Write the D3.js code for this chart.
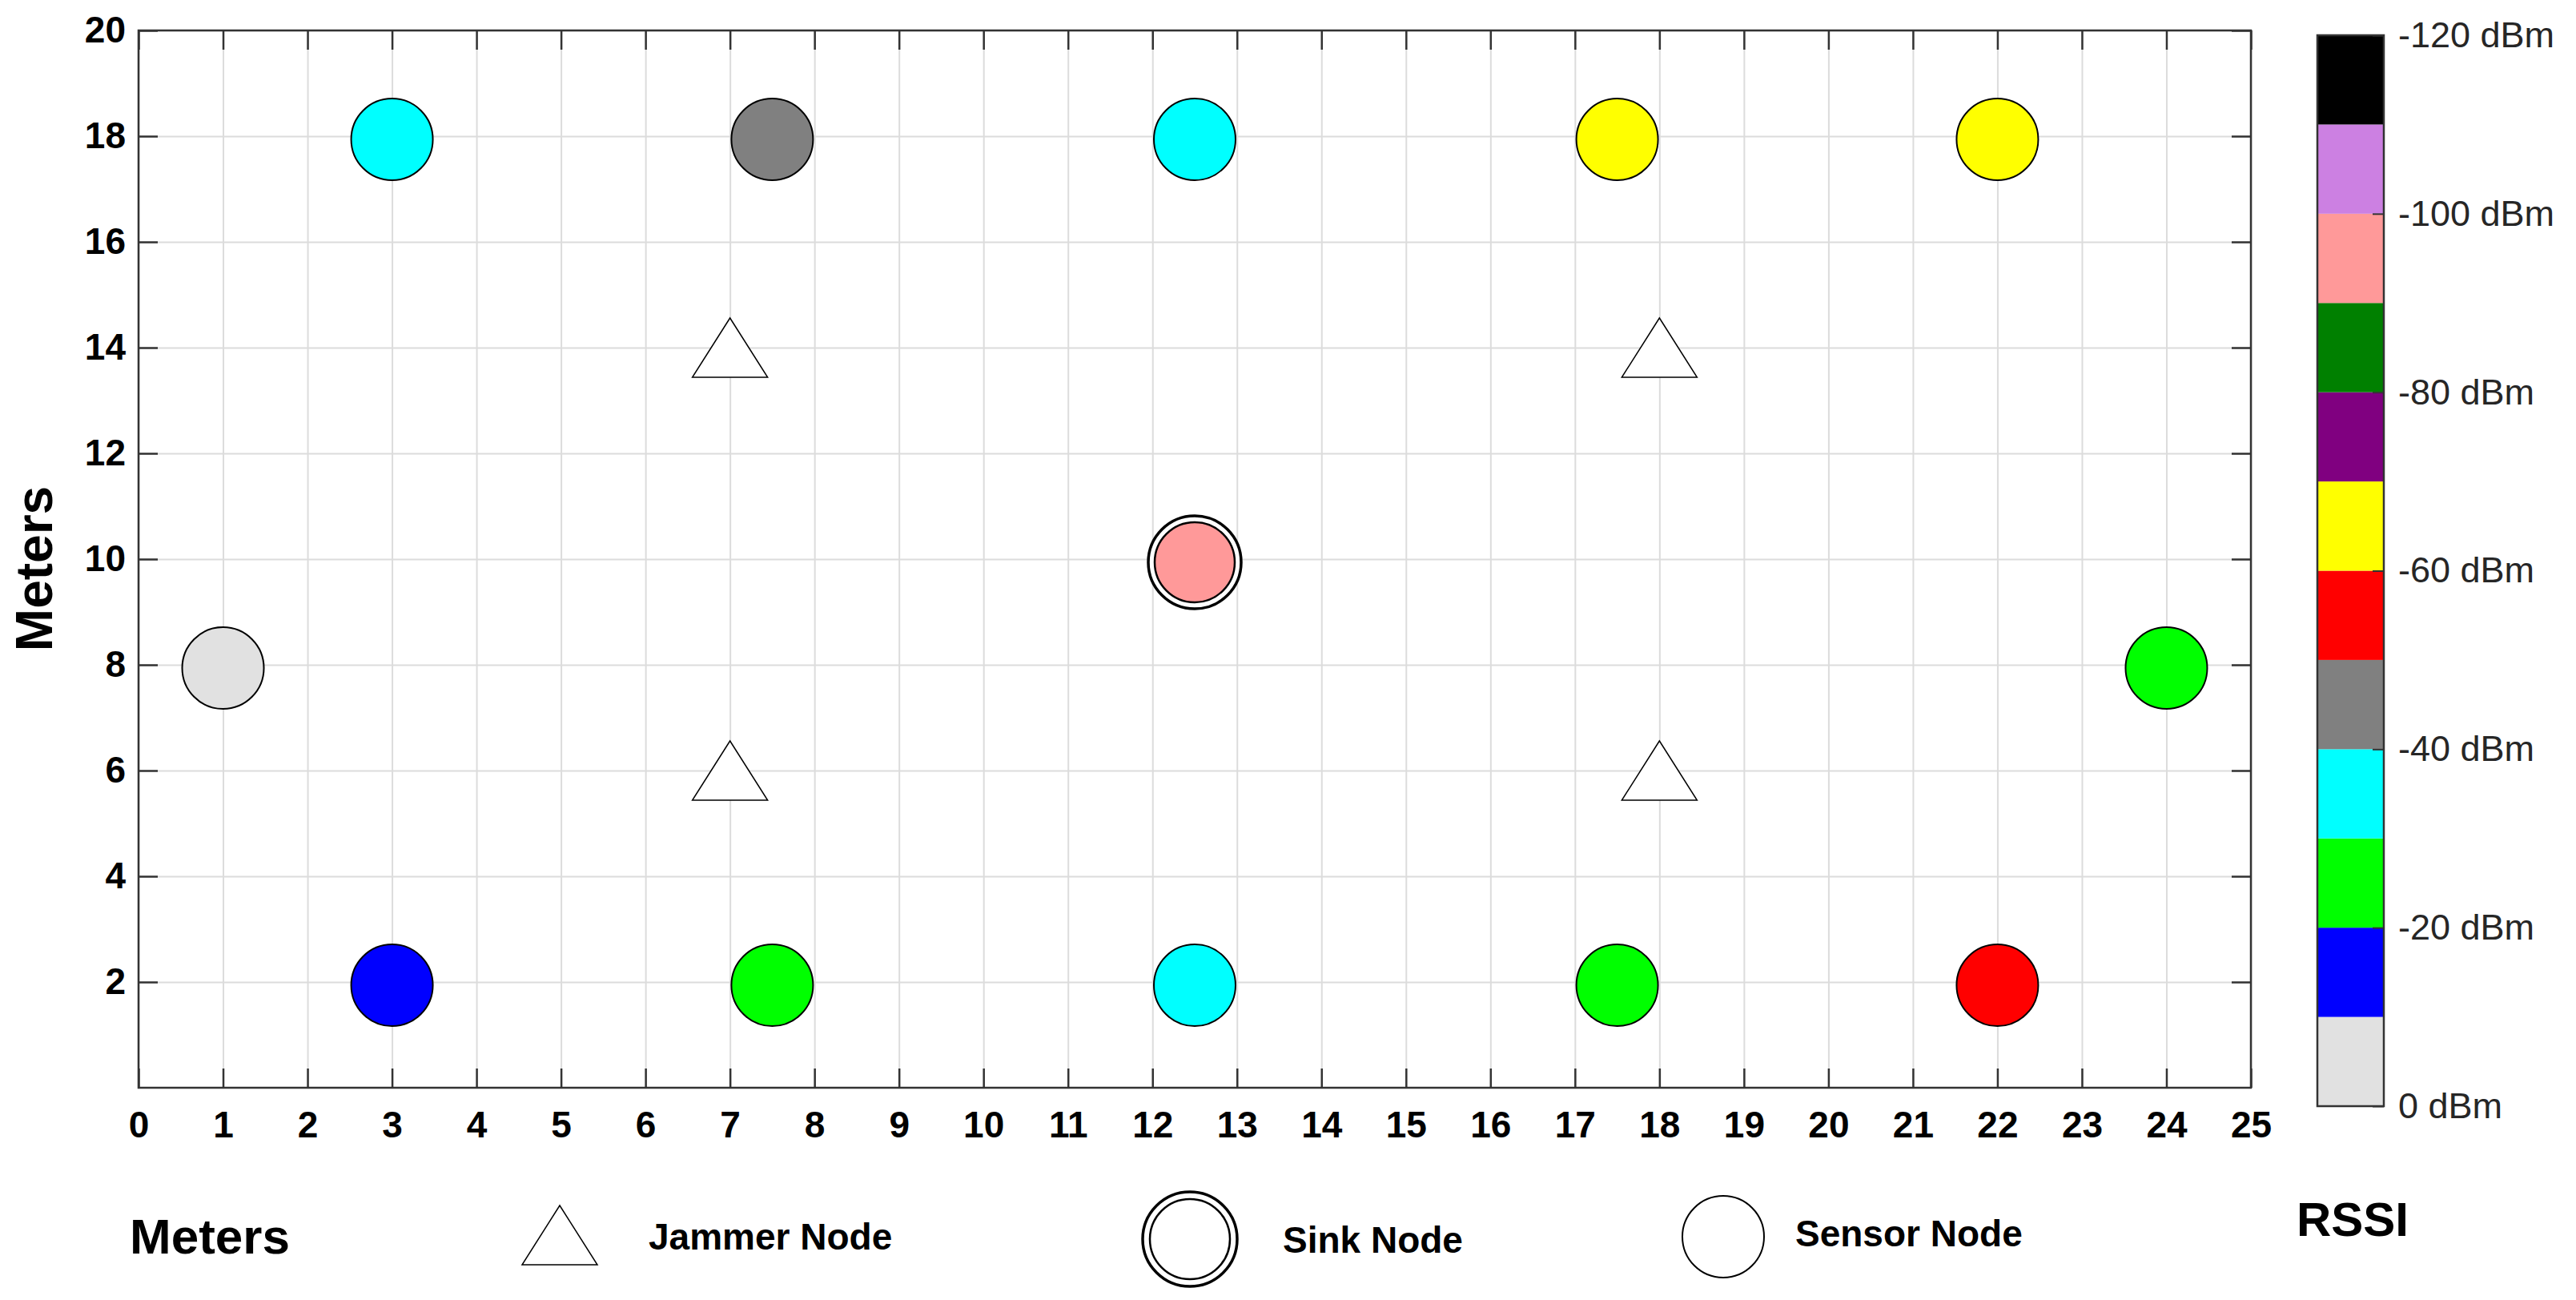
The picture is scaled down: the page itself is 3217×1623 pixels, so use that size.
<!DOCTYPE html>
<html>
<head>
<meta charset="utf-8">
<script src="https://cdn.jsdelivr.net/npm/d3@7"></script>
<style>
  body { margin: 0; background: #fff; }
  svg { display: block; font-family: "Liberation Sans", Arial, sans-serif; }
</style>
</head>
<body>
<svg id="chart" width="3217" height="1623"></svg>
<script>
// node positions (meters) and measured RSSI (dBm)
const sensorX = [3, 7.5, 12.5, 17.5, 22, 1, 24, 3, 7.5, 12.5, 17.5, 22];
const sensorY = [18, 18, 18, 18, 18, 8, 8, 2, 2, 2, 2, 2];
const sensorRssi = [-35, -45, -35, -65, -65, -5, -25, -15, -25, -35, -25, -55];
const sinkX = [12.5];
const sinkY = [10];
const sinkRssi = [-95];
const jammerX = [7, 18, 7, 18];
const jammerY = [14, 14, 6, 6];

// colour bands of the RSSI bar, from 0 dBm down to -120 dBm
const bandEdges = [0, -10, -20, -30, -40, -50, -60, -70, -80, -90, -100, -110, -120];
const bandColors = ['#e1e1e1', '#0000ff', '#00ff00', '#00ffff', '#808080', '#ff0000',
                    '#ffff00', '#800080', '#008000', '#ff9999', '#cc80e2', '#000000'];
const barTicks = [0, -20, -40, -60, -80, -100, -120];
const xTicks = d3.range(0, 26);
const yTicks = [2, 4, 6, 8, 10, 12, 14, 16, 18, 20];

const svg = d3.select('#chart');
const pLeft = 173, pRight = 2811, pTop = 38, pBottom = 1358;
const x = d3.scaleLinear().domain([0, 25]).range([pLeft, pRight]);
const y = d3.scaleLinear().domain([0, 20]).range([pBottom, pTop]);

// rssi -> colour (bands are 10 dBm wide)
const rssiColor = v => bandColors[Math.min(bandColors.length - 1, Math.floor(-v / 10))];

// grid
svg.append('g').attr('class', 'grid')
  .attr('transform', `translate(0,${pBottom})`)
  .call(d3.axisBottom(x).tickValues(xTicks).tickSize(-(pBottom - pTop)).tickFormat(''))
  .call(g => g.select('.domain').remove())
  .call(g => g.selectAll('line').attr('stroke', '#dcdcdc').attr('stroke-width', 2));
svg.append('g').attr('class', 'grid')
  .attr('transform', `translate(${pLeft},0)`)
  .call(d3.axisLeft(y).tickValues(yTicks).tickSize(-(pRight - pLeft)).tickFormat(''))
  .call(g => g.select('.domain').remove())
  .call(g => g.selectAll('line').attr('stroke', '#dcdcdc').attr('stroke-width', 2));

// axes with inward ticks
function styleAxis(g) {
  g.select('.domain').remove();
  g.selectAll('line').attr('stroke', '#333').attr('stroke-width', 2.5);
  g.selectAll('text').attr('fill', '#000').attr('font-size', 46).attr('font-weight', 'bold')
    .attr('font-family', '"Liberation Sans", Arial, sans-serif');
}
svg.append('g').attr('transform', `translate(0,${pBottom})`)
  .call(d3.axisBottom(x).tickValues(xTicks).tickSizeInner(-24).tickSizeOuter(0).tickPadding(29))
  .call(styleAxis);
svg.append('g').attr('transform', `translate(0,${pTop})`)
  .call(d3.axisTop(x).tickValues(xTicks).tickSizeInner(-24).tickSizeOuter(0).tickFormat(''))
  .call(styleAxis);
svg.append('g').attr('transform', `translate(${pLeft},0)`)
  .call(d3.axisLeft(y).tickValues(yTicks).tickSizeInner(-24).tickSizeOuter(0).tickPadding(16))
  .call(styleAxis);
svg.append('g').attr('transform', `translate(${pRight},0)`)
  .call(d3.axisRight(y).tickValues(yTicks).tickSizeInner(-24).tickSizeOuter(0).tickFormat(''))
  .call(styleAxis);

svg.append('rect')
  .attr('x', pLeft).attr('y', pTop)
  .attr('width', pRight - pLeft).attr('height', pBottom - pTop)
  .attr('fill', 'none').attr('stroke', '#333').attr('stroke-width', 2.5);

// triangle path centred on a point
const triW = 94, triH = 74;
const triangle = (cx, cy) =>
  `M${cx},${cy - triH / 2}L${cx + triW / 2},${cy + triH / 2}L${cx - triW / 2},${cy + triH / 2}Z`;

// jammers
svg.append('g').selectAll('path')
  .data(jammerX.map((d, i) => ({x: d, y: jammerY[i]})))
  .join('path')
  .attr('d', d => triangle(x(d.x), y(d.y)))
  .attr('fill', '#fff').attr('stroke', '#000').attr('stroke-width', 1.5);

// sensors
svg.append('g').selectAll('circle')
  .data(sensorX.map((d, i) => ({x: d, y: sensorY[i], v: sensorRssi[i]})))
  .join('circle')
  .attr('cx', d => x(d.x)).attr('cy', d => y(d.y) + 4)
  .attr('r', 51)
  .attr('fill', d => rssiColor(d.v))
  .attr('stroke', '#000').attr('stroke-width', 2);

// sink
const sink = svg.append('g').selectAll('g')
  .data(sinkX.map((d, i) => ({x: d, y: sinkY[i], v: sinkRssi[i]})))
  .join('g');
sink.append('circle')
  .attr('cx', d => x(d.x)).attr('cy', d => y(d.y) + 4).attr('r', 58)
  .attr('fill', '#fff').attr('stroke', '#000').attr('stroke-width', 3.5);
sink.append('circle')
  .attr('cx', d => x(d.x)).attr('cy', d => y(d.y) + 4).attr('r', 50)
  .attr('fill', d => rssiColor(d.v)).attr('stroke', '#000').attr('stroke-width', 2.5);

// y axis title
svg.append('text')
  .attr('transform', 'translate(42,710) rotate(-90)')
  .attr('text-anchor', 'middle').attr('dy', '0.36em')
  .attr('font-size', 64).attr('font-weight', 'bold')
  .text('Meters');

// colour bar
const barX = 2894, barW = 83;
const c = d3.scaleLinear().domain([0, -120]).range([1381, 44]);
svg.append('g').selectAll('rect')
  .data(bandColors)
  .join('rect')
  .attr('x', barX).attr('width', barW)
  .attr('y', (d, i) => c(bandEdges[i + 1]))
  .attr('height', (d, i) => c(bandEdges[i]) - c(bandEdges[i + 1]))
  .attr('fill', d => d);
svg.append('rect')
  .attr('x', barX).attr('y', c(-120)).attr('width', barW).attr('height', c(0) - c(-120))
  .attr('fill', 'none').attr('stroke', '#333').attr('stroke-width', 2.5);
svg.append('g').attr('transform', `translate(${barX + barW},0)`)
  .call(d3.axisRight(c).tickValues(barTicks).tickSizeInner(-14).tickSizeOuter(0)
    .tickPadding(18).tickFormat(d => d + ' dBm'))
  .call(g => g.select('.domain').remove())
  .call(g => g.selectAll('line').attr('stroke', '#333').attr('stroke-width', 2))
  .call(g => g.selectAll('text').attr('fill', '#262626').attr('font-size', 45)
    .attr('font-family', '"Liberation Sans", Arial, sans-serif'));

// bottom legend row
const legendY = 1543;
const bold = sel => sel.attr('font-weight', 'bold').attr('fill', '#000');
svg.append('text').attr('x', 162).attr('y', legendY).attr('dy', '0.36em')
  .attr('font-size', 62).call(bold).text('Meters');
svg.append('text').attr('x', 2868).attr('y', 1521).attr('dy', '0.36em')
  .attr('font-size', 60).call(bold).text('RSSI');

svg.append('path').attr('d', triangle(699, 1542))
  .attr('fill', '#fff').attr('stroke', '#000').attr('stroke-width', 1.5);
svg.append('text').attr('x', 810).attr('y', legendY).attr('dy', '0.36em')
  .attr('font-size', 46).call(bold).text('Jammer Node');

svg.append('circle').attr('cx', 1486).attr('cy', 1547).attr('r', 59)
  .attr('fill', '#fff').attr('stroke', '#000').attr('stroke-width', 3.5);
svg.append('circle').attr('cx', 1486).attr('cy', 1547).attr('r', 50)
  .attr('fill', '#fff').attr('stroke', '#000').attr('stroke-width', 2.5);
svg.append('text').attr('x', 1602).attr('y', 1547).attr('dy', '0.36em')
  .attr('font-size', 46).call(bold).text('Sink Node');

svg.append('circle').attr('cx', 2152).attr('cy', 1544).attr('r', 51)
  .attr('fill', '#fff').attr('stroke', '#000').attr('stroke-width', 2);
svg.append('text').attr('x', 2242).attr('y', 1539).attr('dy', '0.36em')
  .attr('font-size', 46).call(bold).text('Sensor Node');
</script>
</body>
</html>
